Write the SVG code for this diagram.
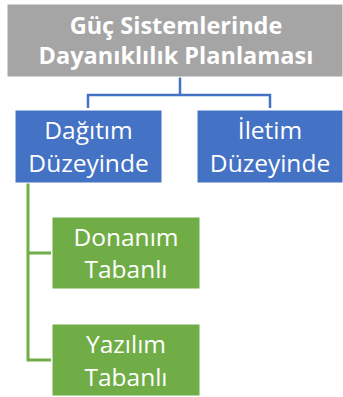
<svg xmlns="http://www.w3.org/2000/svg" width="343" height="397" viewBox="0 0 343 397">
<style>
text{font-family:"Open Sans","Noto Sans",sans-serif;fill:#fff;text-anchor:middle}
.t{font-size:23.5px;font-weight:bold}
.n{font-size:24.5px}
.cb{fill:none;stroke:#4472C4;stroke-width:2.5}
.cg{fill:none;stroke:#70AD47;stroke-width:3}
</style>
<rect width="343" height="397" fill="#fff"/>
<g id="connectors">
<path class="cb" d="M180,77V95M88,108V95H270V108"/>
<path class="cg" d="M28,183V360H51M28,253H51"/>
</g>
<g id="root">
<rect x="7" y="4" width="336" height="73" fill="#A5A5A5" stroke="#fff" stroke-width="1"/>
<text class="t" x="176" y="34">Güç Sistemlerinde</text>
<text class="t" x="176" y="64">Dayanıklılık Planlaması</text>
</g>
<g id="dagitim">
<rect x="15" y="110" width="147" height="73" fill="#4472C4" stroke="#fff" stroke-width="1"/>
<text class="n" x="88.5" y="139">Dağıtım</text>
<text class="n" x="88.5" y="172">Düzeyinde</text>
</g>
<g id="iletim">
<rect x="197" y="110" width="146" height="73" fill="#4472C4" stroke="#fff" stroke-width="1"/>
<text class="n" x="270" y="139">İletim</text>
<text class="n" x="270" y="172">Düzeyinde</text>
</g>
<g id="donanim">
<rect x="52" y="217" width="148" height="72" fill="#70AD47" stroke="#fff" stroke-width="1"/>
<text class="n" x="126" y="246">Donanım</text>
<text class="n" x="126" y="278">Tabanlı</text>
</g>
<g id="yazilim">
<rect x="52" y="324" width="148" height="72" fill="#70AD47" stroke="#fff" stroke-width="1"/>
<text class="n" x="126" y="353">Yazılım</text>
<text class="n" x="126" y="386">Tabanlı</text>
</g>
</svg>
